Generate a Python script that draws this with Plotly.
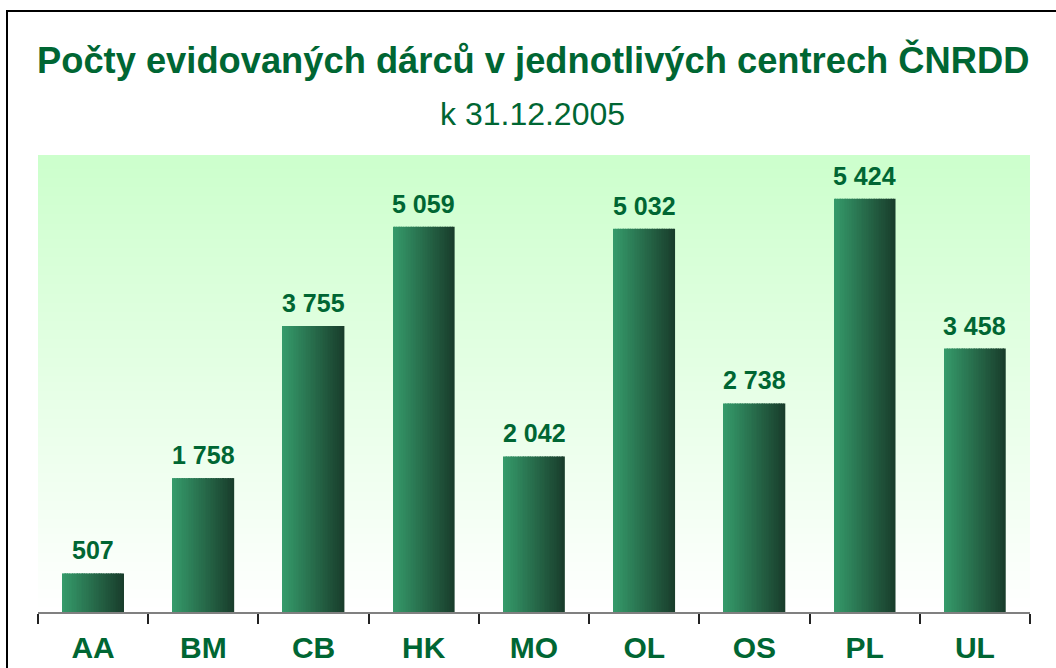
import numpy as np
import plotly.graph_objects as go

categories = ["AA", "BM", "CB", "HK", "MO", "OL", "OS", "PL", "UL"]
values = [507, 1758, 3755, 5059, 2042, 5032, 2738, 5424, 3458]
title_text = "Počty evidovaných dárců v jednotlivých centrech ČNRDD"
subtitle_text = "k 31.12.2005"

GREEN = "#006633"
FONT = "Liberation Sans, Arial, sans-serif"
BAR_W = 0.555
N_SLICES = 36
left_rgb = np.array([53, 154, 106])
right_rgb = np.array([25, 62, 44])

# plot area: x 38..1030, y 155..612 px
L, R, T, B = 38, 26, 155, 56
W, H = 1056, 668
PW, PH = W - L - R, H - T - B

fig = go.Figure()

# vertical background gradient via heatmap (drawn beneath bars)
ys = np.linspace(0, 6000, 151)
fig.add_trace(go.Heatmap(
    x=categories, y=ys, z=[[y] * len(categories) for y in ys],
    colorscale=[[0, "#ffffff"], [1, "#ccffcc"]],
    showscale=False, hoverinfo="skip", zmin=0, zmax=6000,
))

# horizontal bar gradient via thin slices
sw = BAR_W / N_SLICES
for k in range(N_SLICES):
    t = k / (N_SLICES - 1)
    c = (left_rgb + (right_rgb - left_rgb) * t).round().astype(int)
    fig.add_trace(go.Bar(
        x=categories, y=values,
        width=sw * 1.15, offset=-BAR_W / 2 + k * sw,
        marker=dict(color=f"rgb({c[0]},{c[1]},{c[2]})", line=dict(width=0)),
        hoverinfo="skip", showlegend=False,
    ))

for cat, v in zip(categories, values):
    fig.add_annotation(
        x=cat, y=v, text=f"<b>{v:,}</b>".replace(",", " "),
        showarrow=False, yanchor="bottom", yshift=7,
        font=dict(family=FONT, size=25, color=GREEN),
    )

cx = (532.5 - L) / PW
fig.add_annotation(
    xref="paper", yref="paper", x=cx, y=(612 - 60) / PH,
    text=f"<b>{title_text}</b>", showarrow=False, yanchor="middle", xanchor="center",
    font=dict(family=FONT, size=36.3, color=GREEN),
)
fig.add_annotation(
    xref="paper", yref="paper", x=cx, y=(612 - 114) / PH,
    text=subtitle_text, showarrow=False, yanchor="middle", xanchor="center",
    font=dict(family=FONT, size=32, color=GREEN),
)

fig.add_shape(
    type="rect", xref="paper", yref="paper",
    x0=(7 - L) / PW, x1=1.2, y0=-0.4, y1=(612 - 11) / PH,
    line=dict(color="black", width=2), fillcolor="rgba(0,0,0,0)", layer="above",
)

fig.update_layout(
    width=W, height=H,
    margin=dict(l=L, r=R, t=T, b=B, pad=0),
    paper_bgcolor="white", plot_bgcolor="white",
    barmode="overlay", showlegend=False,
    xaxis=dict(
        type="category", range=[-0.5, 8.5], automargin=False,
        showline=True, linecolor="#808080", linewidth=2,
        ticks="outside", tickson="boundaries", ticklen=10,
        tickcolor="#222222", tickwidth=1.5,
        showgrid=False, zeroline=False,
        tickfont=dict(family=FONT, size=30, color=GREEN),
        tickprefix="<b>", ticksuffix="</b>",
        ticklabelstandoff=8,
    ),
    yaxis=dict(range=[0, 6000], visible=False, showgrid=False, zeroline=False,
               automargin=False),
)

fig.write_html(
    "out.html",
    config={"displayModeBar": False},
    post_script="document.body.style.margin='0';document.body.style.padding='0';",
)
